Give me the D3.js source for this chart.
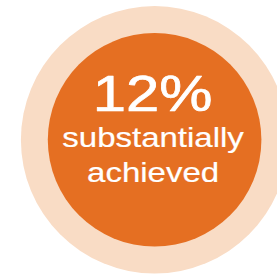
<!DOCTYPE html>
<html>
<head>
<meta charset="utf-8">
<script src="https://cdn.jsdelivr.net/npm/d3@7"></script>
<style>
  html, body { margin: 0; padding: 0; background: #fff; }
  svg { display: block; }
</style>
</head>
<body>
<div id="chart"></div>
<script>
// chart values
const shareValues = [12];
const shareUnits = ["%"];
const labelLines = ["substantially", "achieved"];
const ringNames = ["outer", "inner"];

const width = 277;
const height = 275;
const cx = 154.6;
const cy = 139.8;

const ringRadius = d3.scaleOrdinal().domain(ringNames).range([133.7, 106.8]);
const ringColor = d3.scaleOrdinal().domain(ringNames).range(["#f9dcc5", "#e56f22"]);

const svg = d3.select('#chart').append('svg')
    .attr('width', width)
    .attr('height', height);

svg.append('g')
    .selectAll('circle')
    .data(ringNames)
    .join('circle')
    .attr('cx', cx)
    .attr('cy', cy)
    .attr('r', d => ringRadius(d))
    .attr('fill', d => ringColor(d));

// text is a bit wider than Liberation Sans, so stretch it sideways
const stretch = 1.19;

const big = svg.append('g')
    .attr('transform', `translate(${cx - 2},111.4) scale(${stretch - 0.005},1)`);
big.selectAll('text')
    .data(shareValues)
    .join('text')
    .attr('text-anchor', 'middle')
    .style('font-family', '"Liberation Sans", Arial, sans-serif')
    .style('font-size', '50.5px')
    .attr('fill', '#fff')
    .attr('stroke', '#fff')
    .attr('stroke-width', 0.7)
    .attr('stroke-linejoin', 'round')
    .text((d, i) => d + shareUnits[i]);

const lineBase = d3.scaleLinear().domain([0, 1]).range([147, 181.7]);

svg.append('g')
    .selectAll('g')
    .data(labelLines)
    .join('g')
    .attr('transform', (d, i) => `translate(${cx - 1.5},${lineBase(i)}) scale(${stretch + 0.01},1)`)
    .append('text')
    .attr('text-anchor', 'middle')
    .style('font-family', '"Liberation Sans", Arial, sans-serif')
    .style('font-size', '27.5px')
    .attr('fill', '#fff')
    .attr('stroke', '#fff')
    .attr('stroke-width', 0.2)
    .text(d => d);
</script>
</body>
</html>
